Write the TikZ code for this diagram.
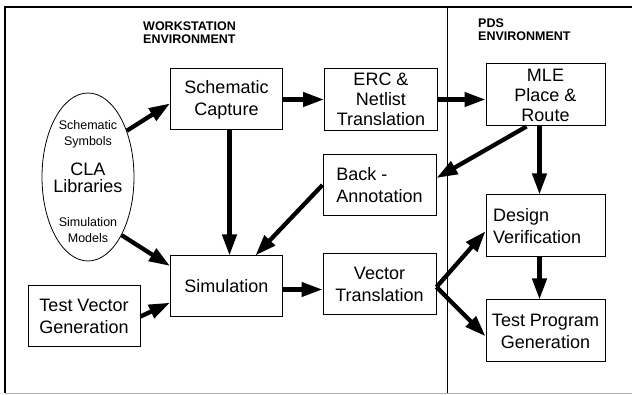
\documentclass[tikz,border=0pt]{standalone}
\usepackage{fontspec}
\setmainfont{Liberation Sans}
\usetikzlibrary{arrows.meta,positioning,calc,shapes.geometric}
\tikzset{
  box/.style={draw, rectangle, line width=1pt, align=center, font=\fontsize{18}{22}\selectfont, minimum width=112pt, minimum height=61pt, inner sep=0pt},
  tbox/.style={box, font=\fontsize{18}{20}\selectfont},
  libell/.style={draw, ellipse, line width=0.8pt, minimum width=92pt, minimum height=168pt, inner sep=0pt},
  arr/.style={-{Triangle[length=21pt, width=14pt]}, line width=4.3pt},
  lbl/.style={font=\fontsize{12.5}{16}\selectfont, align=center, inner sep=0pt},
  capn/.style={font=\fontsize{12.5}{12.5}\selectfont\bfseries, align=left, inner sep=0pt, anchor=north west},
}
\begin{document}
\begin{tikzpicture}[x=1pt, y=-1pt]
\useasboundingbox (0,0) rectangle (632,395);
% frame and environment divider
\draw[line width=2pt] (5,393) -- (5,7) -- (632,7);
\draw[gray!60, line width=1pt] (5,393) -- (632,393);
\draw[line width=1pt] (447,7) -- (447,393);
\node[capn] (ws) at (143,22) {WORKSTATION\\ENVIRONMENT};
\node[capn] (pds) at (478,19) {PDS\\ENVIRONMENT};
% library
\node[libell] (lib) at (88,177) {};
\node[lbl] (symb) at (88,134) {Schematic\\Symbols};
\node[lbl, font=\fontsize{18}{17}\selectfont] (cla) at (88,178) {CLA\\Libraries};
\node[lbl] (models) at (88,230) {Simulation\\Models};
% workstation flow
\node[box] (sc) at (226.5,99.5) {Schematic\\Capture};
\node[tbox, minimum width=113pt, minimum height=62pt, right=41pt of sc] (erc) {ERC \&\\Netlist\\Translation};
\node[box, minimum width=113pt, align=left] (ba) at (379.5,185) {Back -\\Annotation};
\node[box] (sim) at (226.5,286.5) {Simulation};
\node[box, minimum width=113pt] (vt) at (379.5,284) {Vector\\Translation};
\node[box] (tvg) at (84,316.5) {Test Vector\\Generation};
% pds flow
\node[tbox, minimum width=119pt, minimum height=62pt] (mle) at (545.5,95) {MLE\\Place \&\\Route};
\node[box, text width=105pt, inner xsep=7pt, minimum height=62pt, align=left] (dv) at (545.5,226) {Design\\Verification};
\node[box, minimum width=119pt, minimum height=62pt, below=42pt of dv] (tpg) {Test Program\\Generation};
% connectors
\draw[arr] (lib.50) -- (sc.184);
\draw[arr] (lib.-60) -- (sim.160);
\draw[arr] (tvg.east) -- (sim.196);
\draw[arr] ([xshift=3pt]sc.south) -- ([xshift=3pt]sc.south |- sim.north);
\draw[arr] (sc.east) -- (erc.west);
\draw[arr] (erc.east) -- (erc.east -| mle.west);
\draw[arr] (mle.239) -- (ba.7);
\draw[arr] (ba.west) -- (sim.47);
\draw[arr] ([xshift=-6pt]mle.south) -- ([xshift=-6pt]dv.north);
\draw[arr] ([yshift=-3pt]sim.east) -- ([yshift=-3pt]sim.east -| vt.west);
\draw[arr] ([yshift=-3pt]vt.east) -- (dv.185);
\draw[arr] ([yshift=-3pt]vt.east) -- (tpg.185);
\draw[arr] ([xshift=-6pt]dv.south) -- ([xshift=-6pt]tpg.north);
\end{tikzpicture}
\end{document}
